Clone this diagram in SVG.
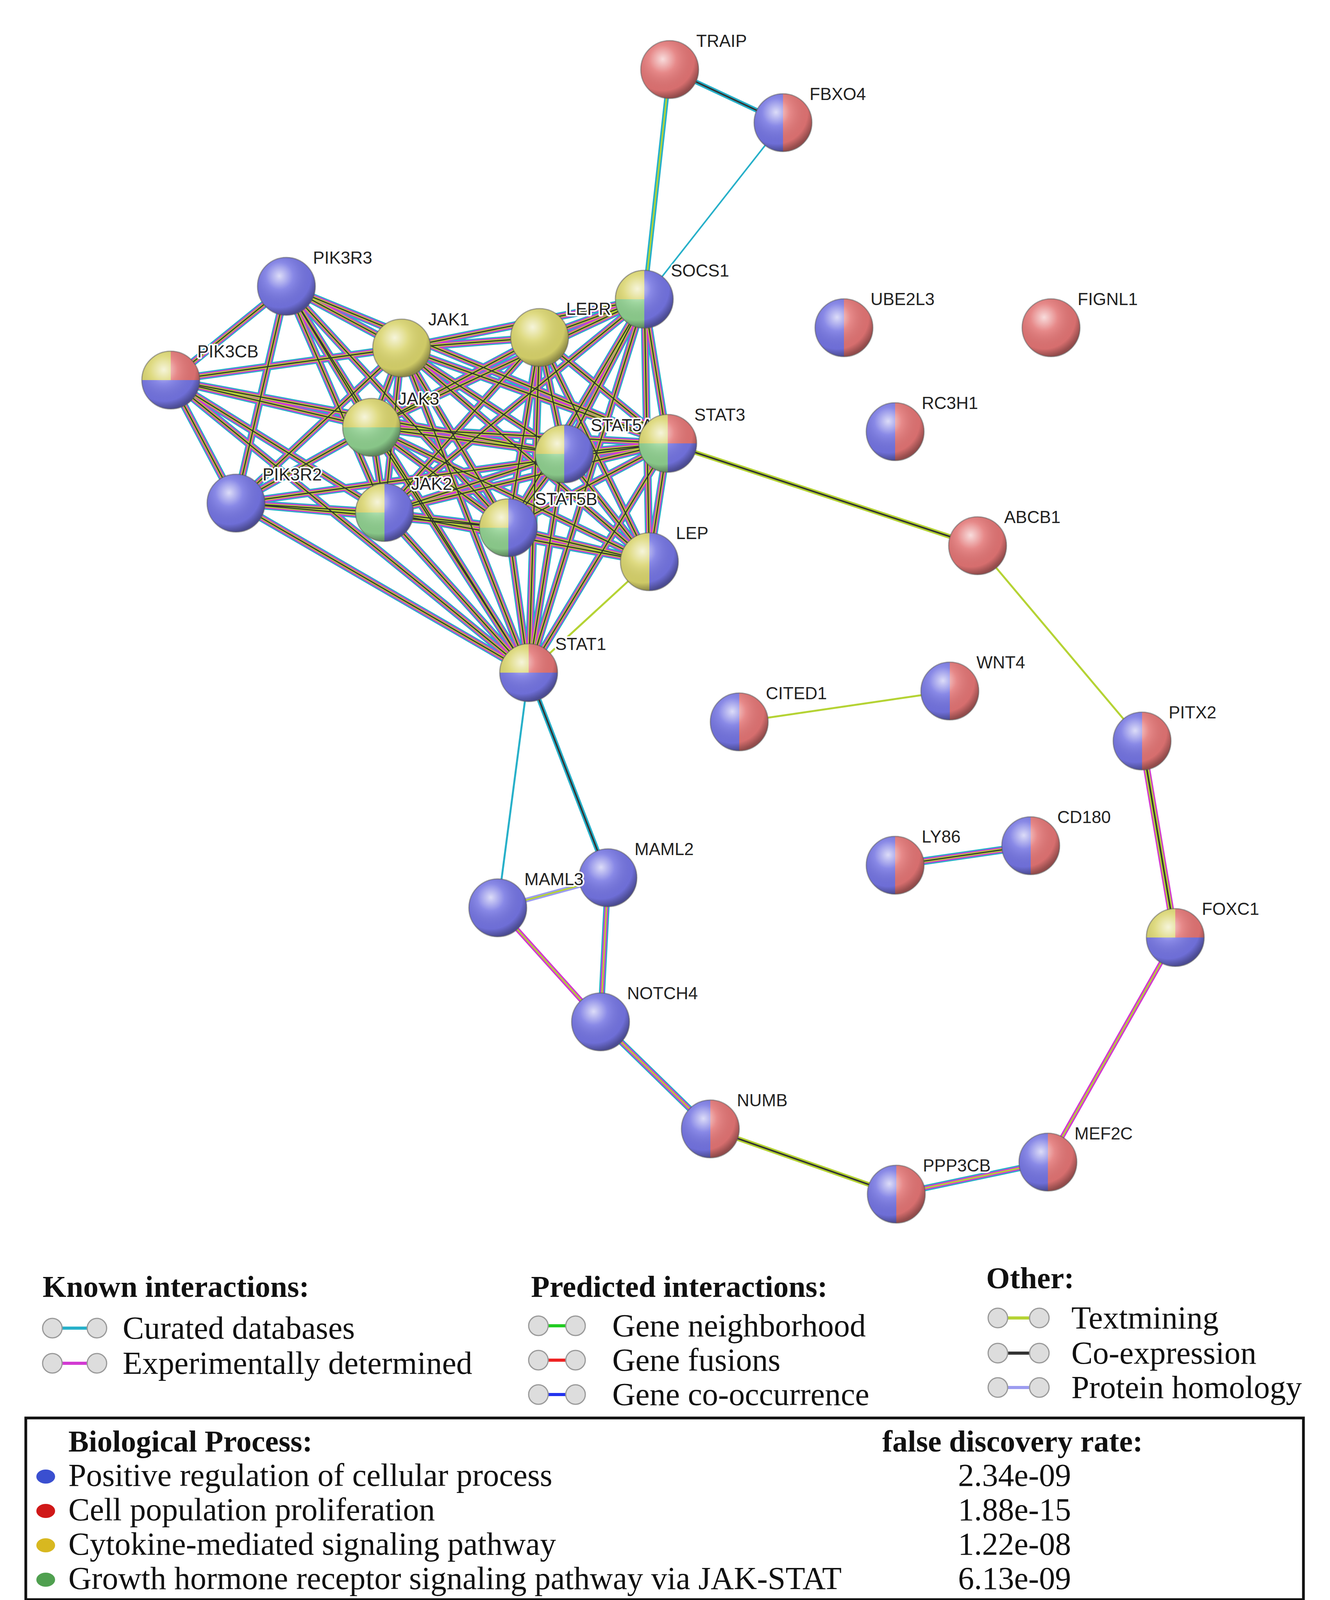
<svg xmlns="http://www.w3.org/2000/svg" xmlns:xlink="http://www.w3.org/1999/xlink" width="3404" height="4276" viewBox="0 0 3404 4276">
<style>
.c{stroke:#27b0c9;fill:none}.m{stroke:#d23ad2;fill:none}.y{stroke:#b5d334;fill:none}.k{stroke:#333;fill:none}.l{stroke:#9c9cf0;fill:none}
.B{fill:#7474e2}.R{fill:#e27474}.Y{fill:#d9d46c}.G{fill:#8fd08f}
.lab{font-family:"Liberation Sans",Arial,sans-serif;font-size:44px;fill:#222;paint-order:stroke;stroke:#fff;stroke-width:8px;stroke-linejoin:round}
.h{font-family:"Liberation Serif","Times New Roman",serif;font-size:78px;font-weight:bold;fill:#111}
.t{font-family:"Liberation Serif","Times New Roman",serif;font-size:82px;fill:#111}
.ic{fill:#ddd;stroke:#999;stroke-width:3}
</style>
<defs>
<radialGradient id="gl" cx="0.38" cy="0.32" r="0.68">
<stop offset="0" stop-color="#fff" stop-opacity="0.75"/><stop offset="0.35" stop-color="#fff" stop-opacity="0.15"/><stop offset="0.8" stop-color="#000" stop-opacity="0.05"/><stop offset="1" stop-color="#000" stop-opacity="0.35"/>
</radialGradient>
<path id="L" d="M0,-74A74,74 0 0 0 0,74Z"/>
<path id="Rh" d="M0,-74A74,74 0 0 1 0,74Z"/>
<path id="TL" d="M0,0L-74,0A74,74 0 0 1 0,-74Z"/>
<path id="TR" d="M0,0L0,-74A74,74 0 0 1 74,0Z"/>
<path id="BL" d="M0,0L0,74A74,74 0 0 1 -74,0Z"/>
<path id="BR" d="M0,0L74,0A74,74 0 0 1 0,74Z"/>
<path id="Bo" d="M-74,0A74,74 0 0 0 74,0Z"/>
<circle id="F" r="74"/>
<circle id="O" r="74" fill="url(#gl)" stroke="#555" stroke-opacity="0.5" stroke-width="3"/>
<path id="cl" d="M1028 891L951 1094M1028 891L984 1312M1028 891L1381 864M1028 891L1649 766M1028 891L1444 1162M1028 891L1709 1135M1028 891L1301 1351M1028 891L1662 1438M1028 891L1353 1722M951 1094L984 1312M951 1094L1381 864M951 1094L1649 766M951 1094L1444 1162M951 1094L1709 1135M951 1094L1301 1351M951 1094L1662 1438M951 1094L1353 1722M984 1312L1381 864M984 1312L1649 766M984 1312L1444 1162M984 1312L1709 1135M984 1312L1301 1351M984 1312L1662 1438M984 1312L1353 1722M1381 864L1649 766M1381 864L1444 1162M1381 864L1709 1135M1381 864L1301 1351M1381 864L1662 1438M1381 864L1353 1722M1649 766L1444 1162M1649 766L1709 1135M1649 766L1301 1351M1649 766L1662 1438M1649 766L1353 1722M1444 1162L1709 1135M1444 1162L1301 1351M1444 1162L1662 1438M1444 1162L1353 1722M1709 1135L1301 1351M1709 1135L1662 1438M1709 1135L1353 1722M1301 1351L1662 1438M1301 1351L1353 1722M733 733L437 973M733 733L604 1288M437 973L604 1288M733 733L1028 891M733 733L951 1094M733 733L984 1312M733 733L1709 1135M733 733L1301 1351M733 733L1353 1722M437 973L1028 891M437 973L951 1094M437 973L984 1312M437 973L1444 1162M437 973L1353 1722M604 1288L1028 891M604 1288L951 1094M604 1288L984 1312M604 1288L1301 1351M604 1288L1353 1722M604 1288L1709 1135M2291 2215L2638 2165"/>
<path id="cmy" d="M1556 2247L1537 2616M1537 2616L1818 2890M2294 3057L2682 2975"/>
</defs>
<g id="connectors">
<use href="#cl" class="c" stroke-width="20"/><use href="#cl" class="m" stroke-width="14"/><use href="#cl" class="y" stroke-width="8"/><use href="#cl" class="k" stroke-width="3"/>
<use href="#cmy" class="c" stroke-width="16"/><use href="#cmy" class="m" stroke-width="10"/><use href="#cmy" class="y" stroke-width="4"/>
<path d="M1714 178L2004 314" class="c" stroke-width="12"/><path d="M1714 178L2004 314" class="k" stroke-width="4"/>
<path d="M1714 178L1649 766" class="c" stroke-width="12"/><path d="M1714 178L1649 766" class="y" stroke-width="4"/>
<path d="M2004 314L1649 766" class="c" stroke-width="4"/>
<path d="M1709 1135L2502 1397" class="y" stroke-width="12"/><path d="M1709 1135L2502 1397" class="k" stroke-width="4"/>
<path d="M2502 1397L2923 1897" class="y" stroke-width="5"/>
<path d="M1353 1722L1662 1438" class="y" stroke-width="5"/>
<path d="M1353 1722L1274 2324" class="c" stroke-width="5"/>
<path d="M1353 1722L1556 2247" class="c" stroke-width="12"/><path d="M1353 1722L1556 2247" class="k" stroke-width="4"/>
<path d="M1892 1848L2431 1769" class="y" stroke-width="5"/>
<path d="M1274 2324L1556 2247" class="l" stroke-width="12"/><path d="M1274 2324L1556 2247" class="y" stroke-width="4"/>
<path d="M1274 2324L1537 2616" class="m" stroke-width="12"/><path d="M1274 2324L1537 2616" class="y" stroke-width="4"/>
<path d="M1818 2890L2294 3057" class="y" stroke-width="12"/><path d="M1818 2890L2294 3057" class="k" stroke-width="4"/>
<path d="M2682 2975L3008 2400" class="m" stroke-width="12"/><path d="M2682 2975L3008 2400" class="y" stroke-width="4"/>
<path d="M3008 2400L2923 1897" class="m" stroke-width="18"/><path d="M3008 2400L2923 1897" class="y" stroke-width="11"/><path d="M3008 2400L2923 1897" class="k" stroke-width="4"/>
</g>
<g id="TRAIP" transform="translate(1714,178)"><use href="#F" class="R"/><use href="#O"/><text class="lab" x="68" y="-58">TRAIP</text></g>
<g id="FBXO4" transform="translate(2004,314)"><use href="#L" class="B"/><use href="#Rh" class="R"/><use href="#O"/><text class="lab" x="68" y="-58">FBXO4</text></g>
<g id="PIK3R3" transform="translate(733,733)"><use href="#F" class="B"/><use href="#O"/><text class="lab" x="68" y="-58">PIK3R3</text></g>
<g id="SOCS1" transform="translate(1649,766)"><use href="#F" class="B"/><use href="#TL" class="Y"/><use href="#BL" class="G"/><use href="#O"/><text class="lab" x="68" y="-58">SOCS1</text></g>
<g id="UBE2L3" transform="translate(2160,839)"><use href="#L" class="B"/><use href="#Rh" class="R"/><use href="#O"/><text class="lab" x="68" y="-58">UBE2L3</text></g>
<g id="FIGNL1" transform="translate(2690,839)"><use href="#F" class="R"/><use href="#O"/><text class="lab" x="68" y="-58">FIGNL1</text></g>
<g id="JAK1" transform="translate(1028,891)"><use href="#F" class="Y"/><use href="#O"/><text class="lab" x="68" y="-58">JAK1</text></g>
<g id="LEPR" transform="translate(1381,864)"><use href="#F" class="Y"/><use href="#O"/><text class="lab" x="68" y="-58">LEPR</text></g>
<g id="PIK3CB" transform="translate(437,973)"><use href="#Bo" class="B"/><use href="#TL" class="Y"/><use href="#TR" class="R"/><use href="#O"/><text class="lab" x="68" y="-58">PIK3CB</text></g>
<g id="JAK3" transform="translate(951,1094)"><use href="#F" class="Y"/><use href="#Bo" class="G"/><use href="#O"/><text class="lab" x="68" y="-58">JAK3</text></g>
<g id="STAT5A" transform="translate(1444,1162)"><use href="#F" class="B"/><use href="#TL" class="Y"/><use href="#BL" class="G"/><use href="#O"/><text class="lab" x="68" y="-58">STAT5A</text></g>
<g id="STAT3" transform="translate(1709,1135)"><use href="#TL" class="Y"/><use href="#TR" class="R"/><use href="#BL" class="G"/><use href="#BR" class="B"/><use href="#O"/><text class="lab" x="68" y="-58">STAT3</text></g>
<g id="RC3H1" transform="translate(2291,1105)"><use href="#L" class="B"/><use href="#Rh" class="R"/><use href="#O"/><text class="lab" x="68" y="-58">RC3H1</text></g>
<g id="PIK3R2" transform="translate(604,1288)"><use href="#F" class="B"/><use href="#O"/><text class="lab" x="68" y="-58">PIK3R2</text></g>
<g id="JAK2" transform="translate(984,1312)"><use href="#F" class="B"/><use href="#TL" class="Y"/><use href="#BL" class="G"/><use href="#O"/><text class="lab" x="68" y="-58">JAK2</text></g>
<g id="STAT5B" transform="translate(1301,1351)"><use href="#F" class="B"/><use href="#TL" class="Y"/><use href="#BL" class="G"/><use href="#O"/><text class="lab" x="68" y="-58">STAT5B</text></g>
<g id="LEP" transform="translate(1662,1438)"><use href="#L" class="Y"/><use href="#Rh" class="B"/><use href="#O"/><text class="lab" x="68" y="-58">LEP</text></g>
<g id="ABCB1" transform="translate(2502,1397)"><use href="#F" class="R"/><use href="#O"/><text class="lab" x="68" y="-58">ABCB1</text></g>
<g id="STAT1" transform="translate(1353,1722)"><use href="#Bo" class="B"/><use href="#TL" class="Y"/><use href="#TR" class="R"/><use href="#O"/><text class="lab" x="68" y="-58">STAT1</text></g>
<g id="CITED1" transform="translate(1892,1848)"><use href="#L" class="B"/><use href="#Rh" class="R"/><use href="#O"/><text class="lab" x="68" y="-58">CITED1</text></g>
<g id="WNT4" transform="translate(2431,1769)"><use href="#L" class="B"/><use href="#Rh" class="R"/><use href="#O"/><text class="lab" x="68" y="-58">WNT4</text></g>
<g id="PITX2" transform="translate(2923,1897)"><use href="#L" class="B"/><use href="#Rh" class="R"/><use href="#O"/><text class="lab" x="68" y="-58">PITX2</text></g>
<g id="LY86" transform="translate(2291,2215)"><use href="#L" class="B"/><use href="#Rh" class="R"/><use href="#O"/><text class="lab" x="68" y="-58">LY86</text></g>
<g id="CD180" transform="translate(2638,2165)"><use href="#L" class="B"/><use href="#Rh" class="R"/><use href="#O"/><text class="lab" x="68" y="-58">CD180</text></g>
<g id="MAML2" transform="translate(1556,2247)"><use href="#F" class="B"/><use href="#O"/><text class="lab" x="68" y="-58">MAML2</text></g>
<g id="MAML3" transform="translate(1274,2324)"><use href="#F" class="B"/><use href="#O"/><text class="lab" x="68" y="-58">MAML3</text></g>
<g id="FOXC1" transform="translate(3008,2400)"><use href="#Bo" class="B"/><use href="#TL" class="Y"/><use href="#TR" class="R"/><use href="#O"/><text class="lab" x="68" y="-58">FOXC1</text></g>
<g id="NOTCH4" transform="translate(1537,2616)"><use href="#F" class="B"/><use href="#O"/><text class="lab" x="68" y="-58">NOTCH4</text></g>
<g id="NUMB" transform="translate(1818,2890)"><use href="#L" class="B"/><use href="#Rh" class="R"/><use href="#O"/><text class="lab" x="68" y="-58">NUMB</text></g>
<g id="MEF2C" transform="translate(2682,2975)"><use href="#L" class="B"/><use href="#Rh" class="R"/><use href="#O"/><text class="lab" x="68" y="-58">MEF2C</text></g>
<g id="PPP3CB" transform="translate(2294,3057)"><use href="#L" class="B"/><use href="#Rh" class="R"/><use href="#O"/><text class="lab" x="68" y="-58">PPP3CB</text></g>
<g id="legend">
<text class="h" x="109" y="3320">Known interactions:</text>
<path d="M134 3400H248" class="c" stroke-width="8"/><circle class="ic" cx="134" cy="3400" r="25"/><circle class="ic" cx="248" cy="3400" r="25"/>
<text class="t" x="314" y="3427">Curated databases</text>
<path d="M134 3490H248" class="m" stroke-width="8"/><circle class="ic" cx="134" cy="3490" r="25"/><circle class="ic" cx="248" cy="3490" r="25"/>
<text class="t" x="314" y="3517">Experimentally  determined</text>
<text class="h" x="1359" y="3320">Predicted interactions:</text>
<path d="M1378 3394H1473" stroke="#22cc22" stroke-width="8"/><circle class="ic" cx="1378" cy="3394" r="25"/><circle class="ic" cx="1473" cy="3394" r="25"/>
<text class="t" x="1567" y="3421">Gene neighborhood</text>
<path d="M1378 3482H1473" stroke="#ee2222" stroke-width="8"/><circle class="ic" cx="1378" cy="3482" r="25"/><circle class="ic" cx="1473" cy="3482" r="25"/>
<text class="t" x="1567" y="3509">Gene fusions</text>
<path d="M1378 3570H1473" stroke="#2233ee" stroke-width="8"/><circle class="ic" cx="1378" cy="3570" r="25"/><circle class="ic" cx="1473" cy="3570" r="25"/>
<text class="t" x="1567" y="3597">Gene co-occurrence</text>
<text class="h" x="2524" y="3298">Other:</text>
<path d="M2554 3374H2660" class="y" stroke-width="8"/><circle class="ic" cx="2554" cy="3374" r="25"/><circle class="ic" cx="2660" cy="3374" r="25"/>
<text class="t" x="2742" y="3401">Textmining</text>
<path d="M2554 3464H2660" class="k" stroke-width="8"/><circle class="ic" cx="2554" cy="3464" r="25"/><circle class="ic" cx="2660" cy="3464" r="25"/>
<text class="t" x="2742" y="3491">Co-expression</text>
<path d="M2554 3552H2660" class="l" stroke-width="8"/><circle class="ic" cx="2554" cy="3552" r="25"/><circle class="ic" cx="2660" cy="3552" r="25"/>
<text class="t" x="2742" y="3579">Protein homology</text>
</g>
<g id="process-box">
<rect x="66" y="3630" width="3270" height="465" fill="none" stroke="#111" stroke-width="7"/>
<text class="h" x="175" y="3716">Biological Process:</text>
<text class="h" x="2258" y="3716">false discovery rate:</text>
<ellipse cx="117" cy="3780" rx="24" ry="18" fill="#3a4fd0"/>
<ellipse cx="117" cy="3868" rx="24" ry="18" fill="#d01818"/>
<ellipse cx="117" cy="3956" rx="24" ry="18" fill="#d8b820"/>
<ellipse cx="117" cy="4044" rx="24" ry="18" fill="#50a050"/>
<text class="t" x="175" y="3804">Positive regulation of cellular process</text>
<text class="t" x="175" y="3892">Cell population proliferation</text>
<text class="t" x="175" y="3980">Cytokine-mediated signaling pathway</text>
<text class="t" x="175" y="4068">Growth hormone receptor signaling pathway via JAK-STAT</text>
<text class="t" x="2452" y="3804">2.34e-09</text>
<text class="t" x="2452" y="3892">1.88e-15</text>
<text class="t" x="2452" y="3980">1.22e-08</text>
<text class="t" x="2452" y="4068">6.13e-09</text>
</g>
</svg>
